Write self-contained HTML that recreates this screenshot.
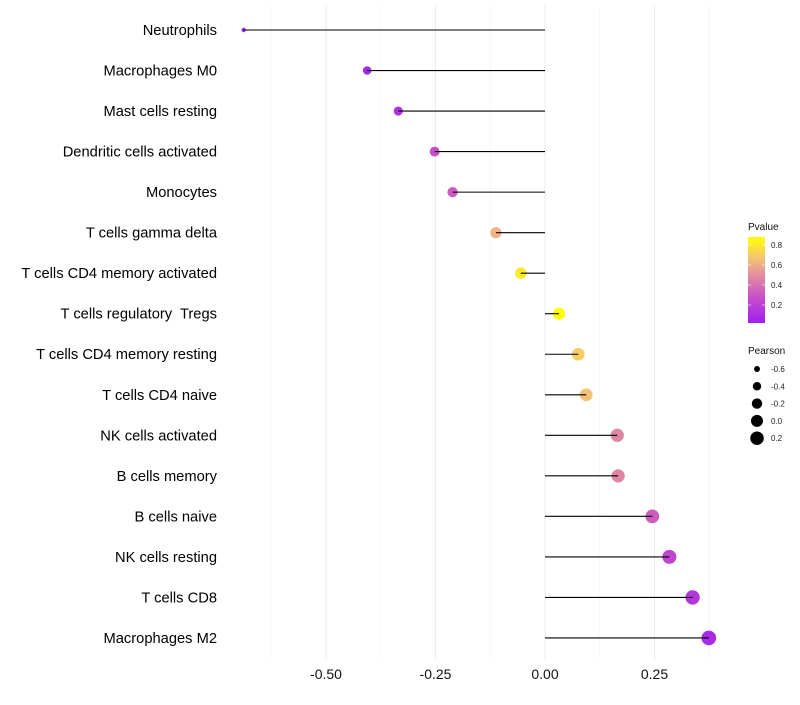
<!DOCTYPE html>
<html><head><meta charset="utf-8"><style>
body{margin:0;background:#fff;}
svg{font-family:"Liberation Sans",sans-serif;}
</style></head><body>
<svg id="chart" width="800" height="700"></svg>
<script>
const categories=["Neutrophils","Macrophages M0","Mast cells resting","Dendritic cells activated","Monocytes","T cells gamma delta","T cells CD4 memory activated","T cells regulatory  Tregs","T cells CD4 memory resting","T cells CD4 naive","NK cells activated","B cells memory","B cells naive","NK cells resting","T cells CD8","Macrophages M2"];
const pearson=[-0.688,-0.406,-0.335,-0.252,-0.211,-0.112,-0.055,0.032,0.076,0.094,0.165,0.167,0.245,0.284,0.337,0.374];
const pvalue=[0.02,0.04,0.1,0.25,0.3,0.6,0.78,0.86,0.68,0.64,0.45,0.45,0.3,0.2,0.12,0.06];
const xTicks=[-0.5,-0.25,0,0.25];
const xTickLabels=["-0.50","-0.25","0.00","0.25"];
const pTicks=[0.2,0.4,0.6,0.8];
const sizeLegend=[-0.6,-0.4,-0.2,0.0,0.2];

const NS="http://www.w3.org/2000/svg";
const svg=document.getElementById('chart');
function mk(tag,attrs,parent){const e=document.createElementNS(NS,tag);for(const k in attrs)e.setAttribute(k,attrs[k]);(parent||svg).appendChild(e);return e;}
const x=v=>545+438*v;
const y=i=>30+i*40.53;
const pMin=Math.min(...pearson),pMax=Math.max(...pearson);
const r=v=>{const t=Math.max(0,Math.min(1,(v-pMin)/(pMax-pMin)));return Math.sqrt(2.2*2.2+t*(7.3*7.3-2.2*2.2));};
const stops=[[0,[160,32,240]],[0.3,[200,80,200]],[0.55,[225,140,160]],[0.75,[245,195,120]],[1,[255,255,0]]];
function col(p){let t=Math.max(0,Math.min(1,p/0.86));for(let i=1;i<stops.length;i++){if(t<=stops[i][0]){const a=stops[i-1],b=stops[i];const f=(t-a[0])/(b[0]-a[0]);const c=a[1].map((v,k)=>Math.round(v+(b[1][k]-v)*f));return `rgb(${c})`;}}return 'rgb(255,255,0)';}

for(let v=-0.625;v<=0.4;v+=0.125){
  const major=xTicks.some(t=>Math.abs(t-v)<1e-6);
  const g=mk('line',{x1:x(v),x2:x(v),y1:5,y2:660,stroke:major?'#ececec':'#f6f6f6','stroke-width':major?1:0.8});
  
  
}
xTicks.forEach((t,i)=>{
  const tl=mk('text',{x:x(t),y:679,'text-anchor':'middle','font-size':14,fill:'#111'});
  tl.textContent=xTickLabels[i];
  
  
});
categories.forEach((c,i)=>{
  const lab=mk('text',{x:217,y:y(i)+5,'text-anchor':'end','font-size':14.7,fill:'#000','xml:space':'preserve',style:'white-space:pre'});
  lab.textContent=c;
  
  
  const dot=mk('circle',{cx:x(pearson[i]),cy:y(i),r:r(pearson[i]),fill:col(pvalue[i])});
  
  
  const seg=mk('line',{x1:x(0),x2:x(pearson[i]),y1:y(i),y2:y(i),stroke:'#000','stroke-width':1.1});
  
  
});
const lt=mk('text',{x:748,y:230,'font-size':10,fill:'#111'});lt.textContent='Pvalue';


const defs=mk('defs',{});
const lg=mk('linearGradient',{id:'pg',x1:0,y1:1,x2:0,y2:0},defs);
stops.forEach(s=>mk('stop',{offset:s[0],'stop-color':`rgb(${s[1]})`},lg));
const bar=mk('rect',{x:748,y:237,width:17,height:86,fill:'url(#pg)'});


pTicks.forEach(p=>{
  const yy=323-p*100+2;
  mk('line',{x1:748,x2:751,y1:yy,y2:yy,stroke:'#fff','stroke-width':0.6});
  mk('line',{x1:762,x2:765,y1:yy,y2:yy,stroke:'#fff','stroke-width':0.6});
  const t=mk('text',{x:771,y:yy+3,'font-size':8,fill:'#222'});t.textContent=p.toFixed(1);
  
  
});
const st=mk('text',{x:748,y:354,'font-size':10,fill:'#111'});st.textContent='Pearson';


sizeLegend.forEach((v,i)=>{
  const yy=369+i*17.3;
  const c=mk('circle',{cx:757,cy:yy,r:r(v),fill:'#000'});
  
  
  const t=mk('text',{x:771,y:yy+3,'font-size':8,fill:'#222'});t.textContent=v.toFixed(1);
  
  
});
</script>
</body></html>
